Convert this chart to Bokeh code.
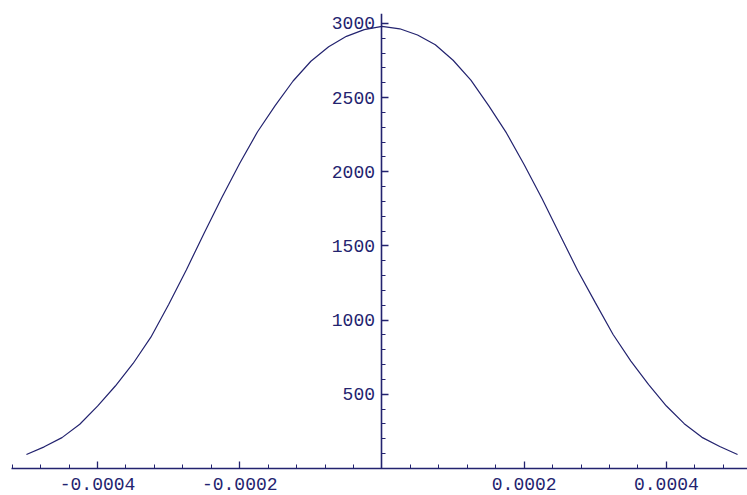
from bokeh.plotting import figure
from bokeh.models import LinearAxis, FixedTicker, PrintfTickFormatter, Range1d
from bokeh.embed import file_html
from bokeh.resources import INLINE

# Sample positions (step 2.5e-5) and curve values
x_vals = [
    -0.0005, -0.000475, -0.00045, -0.000425, -0.0004, -0.000375, -0.00035,
    -0.000325, -0.0003, -0.000275, -0.00025, -0.000225, -0.0002, -0.000175,
    -0.00015, -0.000125, -0.0001, -0.000075, -0.00005, -0.000025,
    0.0,
    0.000025, 0.00005, 0.000075, 0.0001, 0.000125, 0.00015, 0.000175,
    0.0002, 0.000225, 0.00025, 0.000275, 0.0003, 0.000325, 0.00035,
    0.000375, 0.0004, 0.000425, 0.00045, 0.000475, 0.0005,
]
y_vals = [
    94, 146, 208, 298, 420, 556, 708, 885, 1106, 1340, 1588, 1829, 2058,
    2270, 2448, 2612, 2745, 2843, 2913, 2958,
    2980,
    2964, 2922, 2856, 2752, 2618, 2446, 2262, 2048, 1820, 1578, 1336, 1118,
    903, 724, 566, 421, 302, 210, 148, 94,
]

x_major = [-0.0004, -0.0002, 0.0002, 0.0004]
x_minor = [k * 0.00004 for k in range(-13, 14) if k % 5 != 0]
y_major = [500, 1000, 1500, 2000, 2500, 3000]
y_minor = [v for v in range(100, 3100, 100) if v % 500 != 0]

navy = "#23236f"

p = figure(
    width=747, height=495,
    x_range=Range1d(-0.000521, 0.000514),
    y_range=Range1d(0, 3067),
    x_axis_type=None, y_axis_type=None,
    output_backend="svg", toolbar_location=None,
    min_border_left=11, min_border_right=0,
    min_border_top=13, min_border_bottom=27,
)
p.outline_line_color = None
p.background_fill_color = "white"
p.border_fill_color = "white"

p.line(x_vals, y_vals, line_color=navy, line_width=1.2)


def style(axis):
    axis.axis_line_color = navy
    axis.axis_line_width = 1.6
    axis.major_tick_line_color = navy
    axis.minor_tick_line_color = navy
    axis.major_tick_line_width = 1.3
    axis.minor_tick_line_width = 1.0
    axis.major_tick_in = 7
    axis.major_tick_out = 0
    axis.minor_tick_in = 4
    axis.minor_tick_out = 0
    axis.major_label_text_font = "Liberation Mono"
    axis.major_label_text_font_size = "18px"
    axis.major_label_text_font_style = "normal"
    axis.major_label_text_color = navy


xaxis = LinearAxis(
    ticker=FixedTicker(ticks=x_major, minor_ticks=x_minor),
    formatter=PrintfTickFormatter(format="%.4f"),
)
style(xaxis)
xaxis.major_label_standoff = 9
p.add_layout(xaxis, "below")

yaxis = LinearAxis(
    fixed_location=0,
    ticker=FixedTicker(ticks=y_major, minor_ticks=y_minor),
    formatter=PrintfTickFormatter(format="%d"),
)
style(yaxis)
yaxis.major_label_standoff = 7
p.add_layout(yaxis, "left")

open("out.html", "w").write(file_html(p, INLINE))
